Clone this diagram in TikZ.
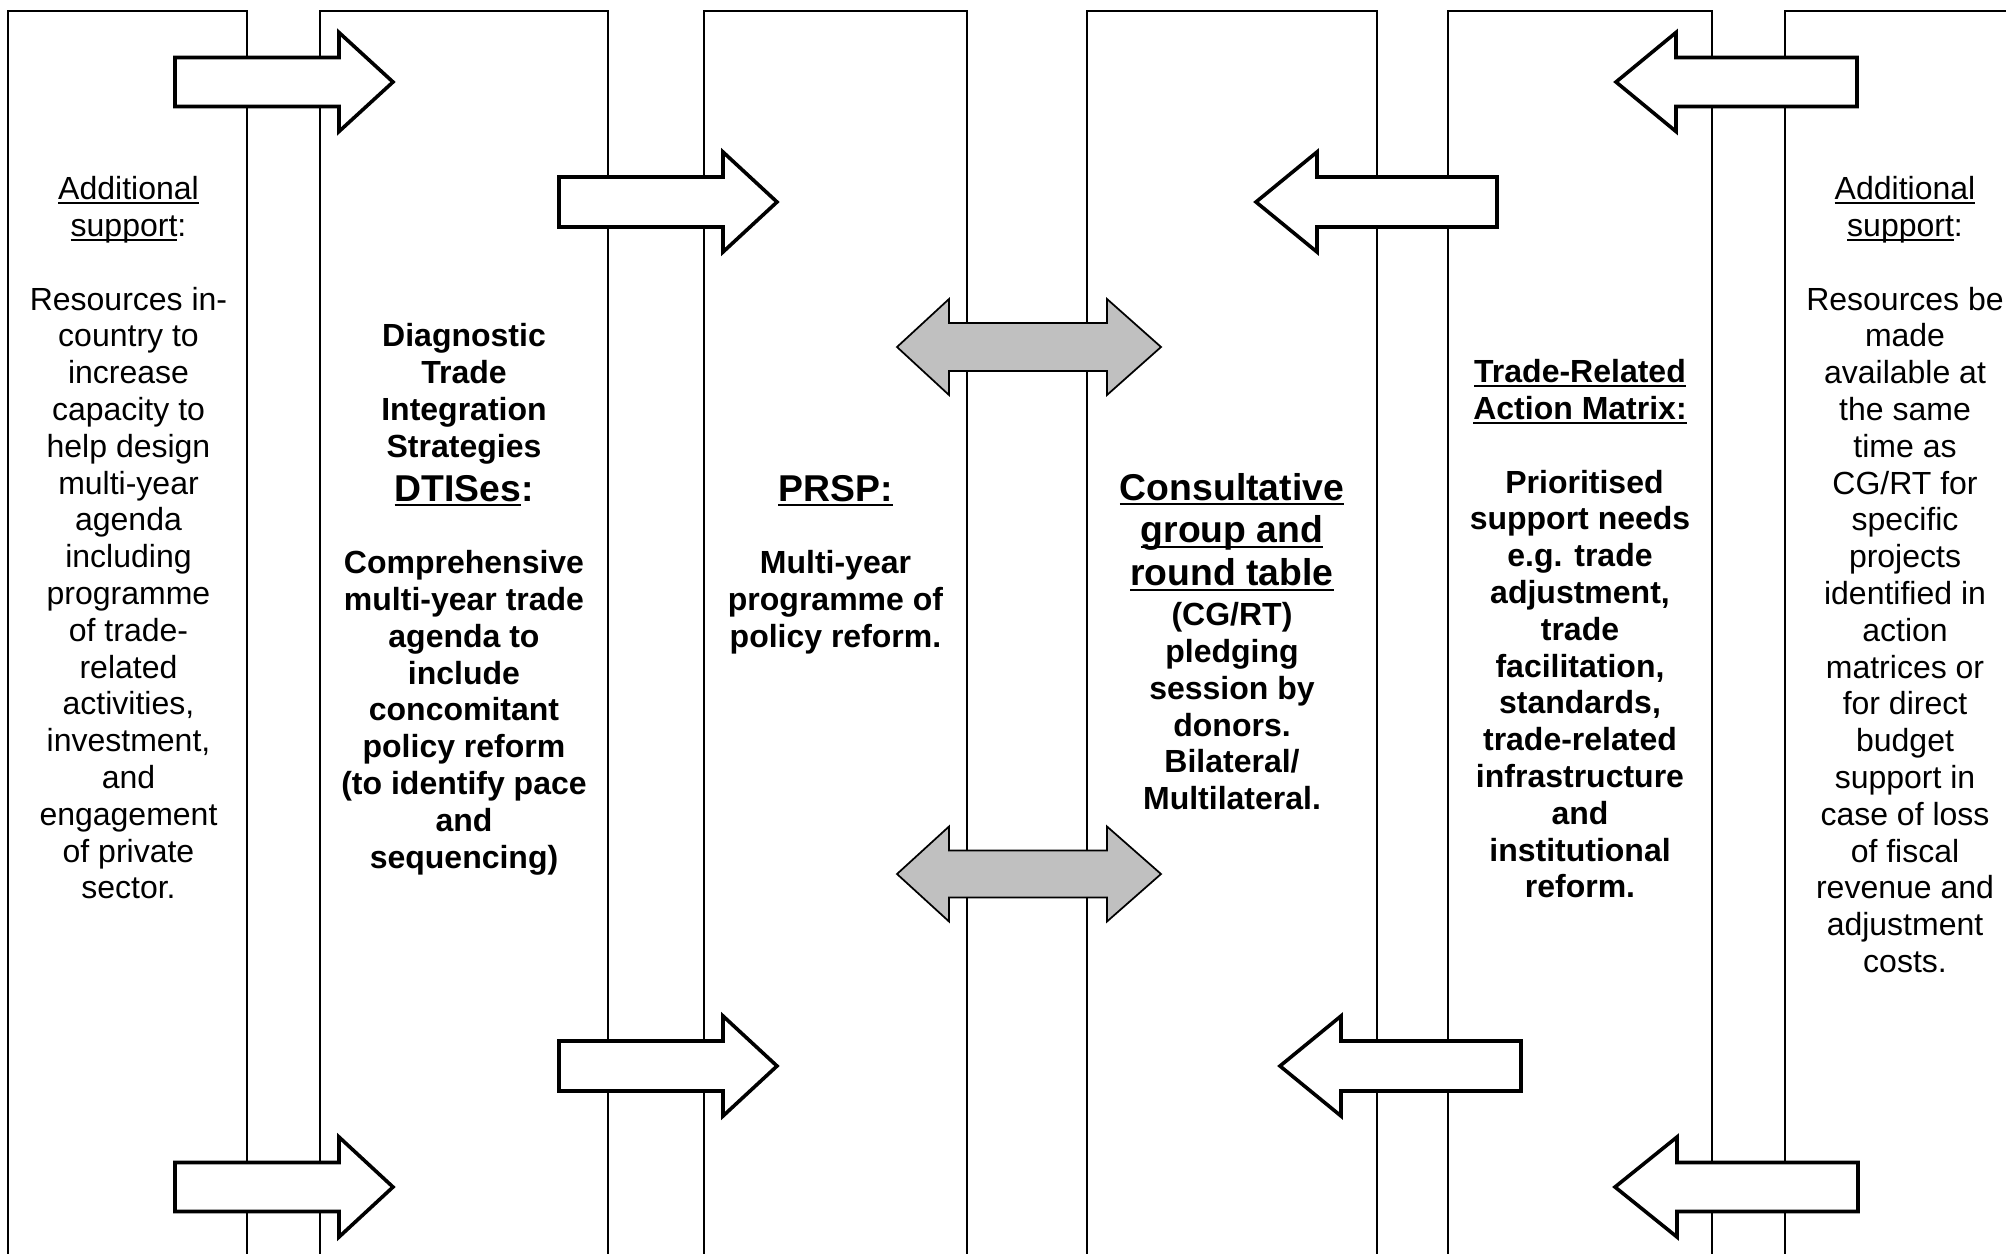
\documentclass[tikz,border=0pt]{standalone}
\usepackage{fontspec}
\setmainfont{Liberation Sans}
\newcommand\ulx[1]{\setbox0=\hbox{#1}\rlap{\rule[-0.143em]{\wd0}{0.073em}}\box0}
\definecolor{arrgray}{RGB}{192,192,192}
% single block arrow: #1 tail x, #2 head base x, #3 tip x, #4 centre y, #5 half body, #6 half head, #7 style
\newcommand\blockarrow[7]{%
  \draw[#7] (#1,#4-#5) -- (#2,#4-#5) -- (#2,#4-#6) -- (#3,#4) -- (#2,#4+#6) -- (#2,#4+#5) -- (#1,#4+#5) -- cycle;}
% double block arrow: #1 left tip, #2 left head base, #3 right head base, #4 right tip, #5 centre y, #6 half body, #7 half head
\newcommand\dblarrow[7]{%
  \draw[grayarrow] (#1,#5) -- (#2,#5-#7) -- (#2,#5-#6) -- (#3,#5-#6) -- (#3,#5-#7) -- (#4,#5)
    -- (#3,#5+#7) -- (#3,#5+#6) -- (#2,#5+#6) -- (#2,#5+#7) -- cycle;}
\begin{document}
\begin{tikzpicture}[x=0.375pt, y=-0.375pt,
  boxline/.style={line width=0.65pt, draw=black},
  whitearrow/.style={draw=black, fill=white, line width=1.35pt},
  grayarrow/.style={draw=black, fill=arrgray, line width=0.65pt},
  txt/.style={inner sep=0pt, outer sep=0pt, align=center, anchor=north,
    font=\fontsize{12pt}{13.8pt}\selectfont},
  btxt/.style={txt, font=\fontsize{12pt}{13.8pt}\selectfont\bfseries},
  htxt/.style={txt, font=\fontsize{14pt}{16.1pt}\selectfont\bfseries}]
\useasboundingbox (0,0) rectangle (2006,1253);
\fill[white] (0,0) rectangle (2006,1253);
% column boxes (open at the bottom)
\draw[boxline] (8,1270) -- (8,11) -- (247,11) -- (247,1270);
\draw[boxline] (320,1270) -- (320,11) -- (608,11) -- (608,1270);
\draw[boxline] (704,1270) -- (704,11) -- (967,11) -- (967,1270);
\draw[boxline] (1087,1270) -- (1087,11) -- (1377,11) -- (1377,1270);
\draw[boxline] (1448,1270) -- (1448,11) -- (1712,11) -- (1712,1270);
\draw[boxline] (1785,1270) -- (1785,11) -- (2025,11) -- (2025,1270);
% white block arrows
\blockarrow{175}{339}{393}{82}{24.5}{49.5}{whitearrow}
\blockarrow{1857}{1676}{1616}{82}{24.5}{49.5}{whitearrow}
\blockarrow{559}{723}{777}{202}{25}{50}{whitearrow}
\blockarrow{1497}{1317}{1256}{202}{25}{50}{whitearrow}
\blockarrow{559}{723}{777}{1066}{25}{50}{whitearrow}
\blockarrow{1521}{1341}{1280}{1066}{25}{50}{whitearrow}
\blockarrow{175}{339}{393}{1187}{24.5}{50}{whitearrow}
\blockarrow{1858}{1677}{1615}{1187}{24.5}{50}{whitearrow}
% grey double arrows
\dblarrow{897}{949}{1107}{1161}{347}{24}{48}
\dblarrow{897}{949}{1107}{1161}{874}{23.5}{47.5}
% texts
\node[txt] (addL) at (128.5,174) {\strut\ulx{Additional}\\\ulx{support}:\\\mbox{}\\Resources in-\\country to\\increase\\capacity to\\help design\\multi-year\\agenda\\including\\programme\\of trade-\\related\\activities,\\investment,\\and\\engagement\\of private\\sector.};
\node[btxt] (dtisA) at (464,321) {\strut Diagnostic\\Trade\\Integration\\Strategies};
\node[htxt] (dtisH) at (464,471) {\strut\ulx{DTISes}:};
\node[btxt] (dtisB) at (464,548) {\strut Comprehensive\\multi-year trade\\agenda to\\include\\concomitant\\policy reform\\(to identify pace\\and\\sequencing)};
\node[htxt] (prspH) at (835.5,471) {\strut\ulx{PRSP:}};
\node[btxt] (prspB) at (835.5,548) {\strut Multi-year\\programme of\\policy reform.};
\node[htxt] (cgH) at (1232,470) {\strut\ulx{Consultative}\\\ulx{group and}\\\ulx{round table}};
\node[btxt] (cgB) at (1232,600) {\strut (CG/RT)\\pledging\\session by\\donors.\\Bilateral/\\Multilateral.};
\node[btxt] (tram) at (1580,357) {\strut\ulx{Trade-Related}\\\ulx{Action Matrix:}\\\mbox{}\\~Prioritised\\support needs\\e.g. trade\\adjustment,\\trade\\facilitation,\\standards,\\trade-related\\infrastructure\\and\\institutional\\reform.};
\node[txt] (addR) at (1905,174) {\strut\ulx{Additional}\\\ulx{support}:\\\mbox{}\\Resources be\\made\\available at\\the same\\time as\\CG/RT for\\specific\\projects\\identified in\\action\\matrices or\\for direct\\budget\\support in\\case of loss\\of fiscal\\revenue and\\adjustment\\costs.};
\end{tikzpicture}
\end{document}
